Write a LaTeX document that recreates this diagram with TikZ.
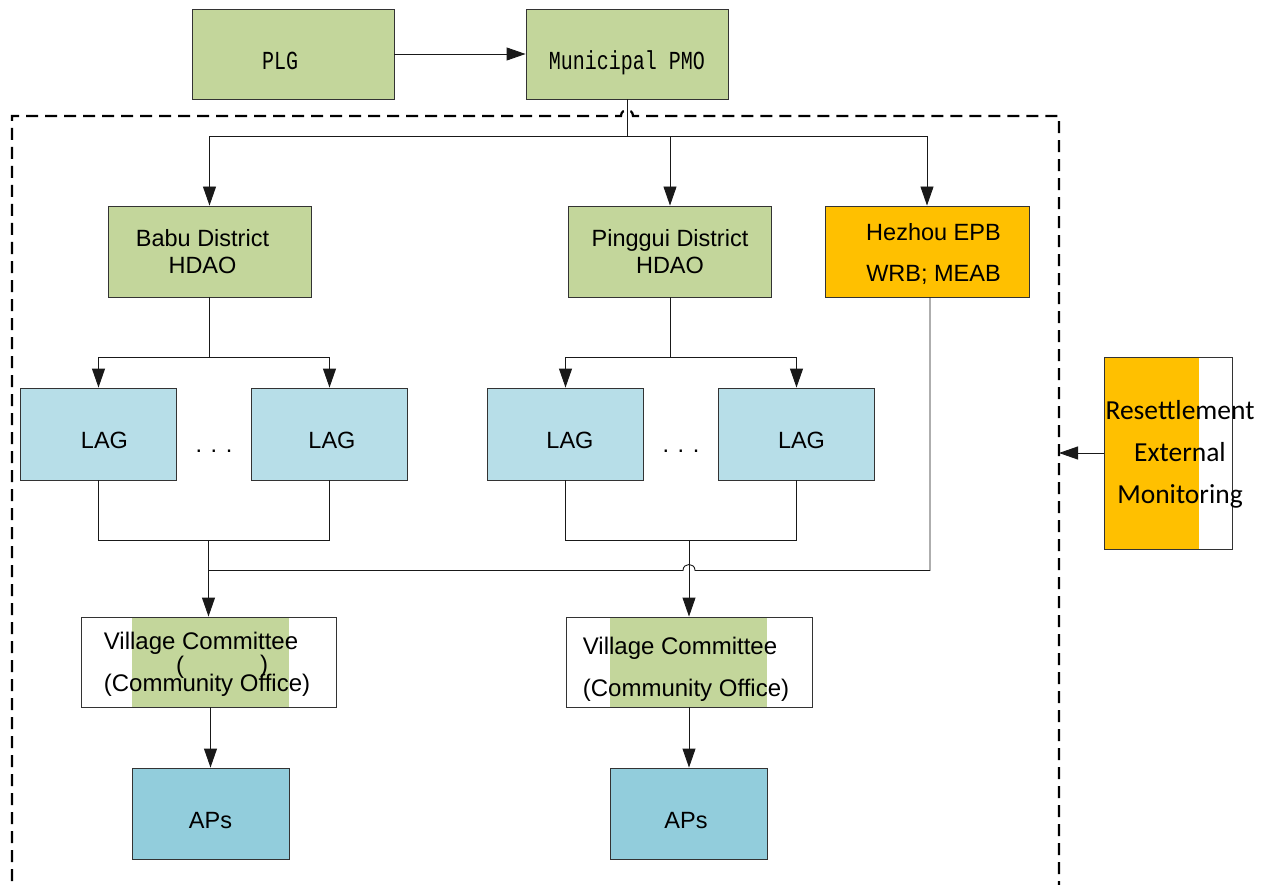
\documentclass[tikz,border=0pt]{standalone}
\usepackage{graphicx}
\usepackage{fontspec}
\setmainfont{Liberation Sans}
\newfontfamily\monofont{Liberation Mono}
\newfontfamily\calfont{Carlito}
\usetikzlibrary{arrows.meta}
\definecolor{boxgreen}{HTML}{C3D69B}
\definecolor{lagblue}{HTML}{B7DEE8}
\definecolor{apblue}{HTML}{92CDDC}
\definecolor{amber}{HTML}{FFC000}
\definecolor{edge}{HTML}{333333}
% set a block of lines off its node's centre: #1 = lead space (twice the
% sideways offset), #2 = drop, #3 = column type, #4 = the lines
\newcommand\offsetlines[4]{\hspace*{#1}\raisebox{-#2}[\height][\depth]{%
  \begin{tabular}{@{}#3@{}}#4\end{tabular}}}
% tall, narrow lettering of the top two boxes
\newcommand\tallmono[1]{\scalebox{1}[1.3]{#1}}

\begin{document}
\begin{tikzpicture}[x=1pt,y=-1pt,
  unit/.style={draw=edge, line width=0.9pt, inner sep=0pt, align=center,
    font=\fontsize{23.5}{27}\selectfont},
  topbox/.style={unit, fill=boxgreen, minimum width=202pt, minimum height=90pt,
    font=\monofont\fontsize{20}{24}\selectfont, text height=32pt, text depth=0pt},
  district/.style={unit, fill=boxgreen, minimum width=203pt, minimum height=91pt},
  bureau/.style={unit, fill=amber, minimum width=204pt, minimum height=91pt,
    font=\fontsize{23.5}{41}\selectfont},
  lagbox/.style={unit, fill=lagblue, minimum width=156pt, minimum height=92pt,
    text height=28.8pt, text depth=0pt},
  apbox/.style={unit, fill=apblue, minimum width=157pt, minimum height=91pt,
    text height=29.8pt, text depth=0pt},
  village/.style={unit, fill=white, minimum height=90pt,
    font=\fontsize{24}{42}\selectfont},
  paren/.style={font=\fontsize{24}{26}\selectfont, inner sep=0pt},
  conn/.style={draw=black!90, line width=0.9pt},
  arr/.style={conn, -{Triangle[length=19pt,width=13pt]}},
  frame/.style={line width=2.2pt, dash pattern=on 12pt off 7pt},
  dots/.style={font=\fontsize{23.5}{27}\selectfont}
]
\useasboundingbox (0,0) rectangle (1273,885);
\clip (0,0) rectangle (1273,885);

% top level
\node[topbox] (plg) at (293,54) {\hspace*{-26pt}\tallmono{PLG}};
\node[topbox] (pmo) at (627,54) {\tallmono{Municipal PMO}};

% dashed boundary of the county level (open at the bottom)
\draw[frame] (12,900) -- (12,116) -- (621,116)
  .. controls +(0,-8) and +(0,-8) .. (633,116) -- (1059,116) -- (1059,900);
\coordinate (frameR) at (1059,453);

% district level
\node[district] (babu) at (209.5,251.5) {\offsetlines{-14pt}{3.5pt}{c}{Babu District\\HDAO}};
\node[district] (pinggui) at (670,251.5) {Pinggui District\\HDAO};
\node[bureau] (hezhou) at (927,251.5) {\offsetlines{13pt}{1.5pt}{c}{Hezhou EPB\\WRB; MEAB}};

% land acquisition groups
\node[lagbox] (lag1) at (98.5,434) {\hspace*{12pt}LAG};
\node[lagbox] (lag2) at (329.5,434) {\hspace*{5pt}LAG};
\node[lagbox] (lag3) at (565.5,434) {\hspace*{9pt}LAG};
\node[lagbox] (lag4) at (796.5,434) {\hspace*{10pt}LAG};
\node[dots] (dotsA) at (214,451) {. . .};
\node[dots] (dotsB) at (681,451) {. . .};

% village committees
\node[village, minimum width=255pt,
  path picture={\fill[boxgreen] ([xshift=51pt]path picture bounding box.south west)
    rectangle ([xshift=-47pt]path picture bounding box.north east);}]
  (vc1) at (208.5,662) {\offsetlines{-3pt}{0.5pt}{l}{Village Committee\\(Community Office)}};
\node[paren] (vcpl) at (180,667) {(};
\node[paren] (vcpr) at (264,666) {)};
\node[village, minimum width=246pt,
  path picture={\fill[boxgreen] ([xshift=44pt]path picture bounding box.south west)
    rectangle ([xshift=-45pt]path picture bounding box.north east);}]
  (vc2) at (689,662) {\offsetlines{-6pt}{5pt}{l}{Village Committee\\(Community Office)}};

% affected persons
\node[apbox] (ap1) at (210.5,813.5) {APs};
\node[apbox] (ap2) at (689,813.5) {\hspace*{-6pt}APs};

% external monitor
\node[draw=edge, line width=0.9pt, fill=white, minimum width=128pt, minimum height=192pt,
  inner sep=0pt,
  path picture={\fill[amber] (path picture bounding box.north west)
    rectangle ([xshift=95pt]path picture bounding box.south west);}]
  (rem) at (1168,453) {};
\node[font=\calfont\fontsize{27.5}{42}\selectfont, align=center, inner sep=0pt]
  (remtext) at (1180,454) {Resettlement\\External\\Monitoring};

% connectors
\draw[arr] (plg.east) -- (pmo.west);
\coordinate (busT) at (627,136);
\draw[conn] (pmo.south) -- (busT);
\draw[arr] (busT) -| (babu.north);
\draw[arr] (busT) -| (pinggui.north);
\draw[arr] (busT) -| (hezhou.north);

\path (babu.south) ++(0,60) coordinate (bj);
\draw[conn] (babu.south) -- (bj);
\draw[arr] (bj) -| (lag1.north);
\draw[arr] (bj) -| (lag2.north);
\path (pinggui.south) ++(0,60) coordinate (pj);
\draw[conn] (pinggui.south) -- (pj);
\draw[arr] (pj) -| (lag3.north);
\draw[arr] (pj) -| (lag4.north);

\path (lag1.south) ++(0,60) coordinate (l1b);
\draw[conn] (lag1.south) -- (l1b) -| (lag2.south);
\draw[arr] (vc1.north |- l1b) -- (vc1.north);
\path (lag3.south) ++(0,60) coordinate (l3b);
\draw[conn] (lag3.south) -- (l3b) -| (lag4.south);
\draw[arr] (vc2.north |- l3b) -- (vc2.north);

\path ([xshift=3pt]hezhou.south) coordinate (hzs) ++(0,273) coordinate (hz);
\draw[conn] (hzs) -- (hz) -- ([xshift=6pt]vc2.north |- hz)
  .. controls +(0,-8) and +(0,-8) .. ([xshift=-6pt]vc2.north |- hz)
  -- (vc1.north |- hz);

\draw[arr] (ap1.north |- vc1.south) -- (ap1.north);
\draw[arr] (vc2.south) -- (ap2.north);

\draw[arr] (rem.west) -- (frameR);
\end{tikzpicture}
\end{document}
